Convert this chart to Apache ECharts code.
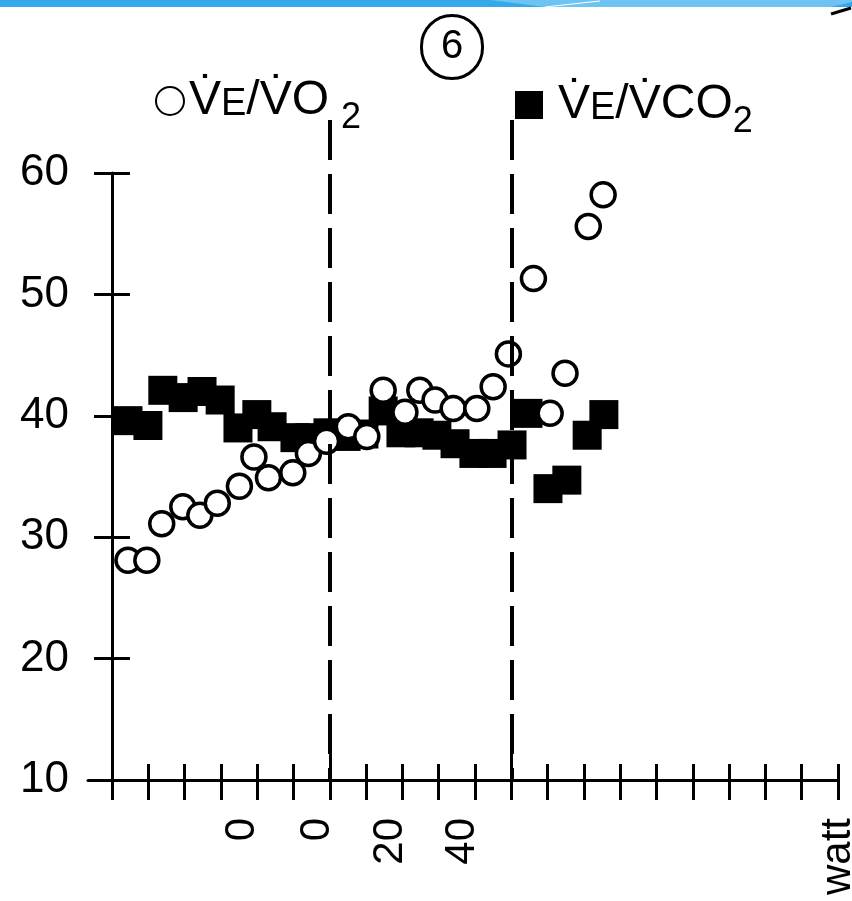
<!DOCTYPE html>
<html>
<head>
<meta charset="utf-8">
<script src="https://cdn.jsdelivr.net/npm/echarts@6/dist/echarts.min.js"></script>
<style>
html,body{margin:0;padding:0;background:#fff;}
#chart{width:852px;height:901px;}
</style>
</head>
<body>
<div id="chart"></div>
<script>
// ---- data (x in tick units along the bottom axis, y = ratio) ----
const voX = [0.44, 0.96, 1.37, 1.95, 2.42, 2.90, 3.51, 3.91, 4.31, 4.98, 5.41, 5.91, 6.51, 7.02, 7.47, 8.07, 8.48, 8.90, 9.40, 10.05, 10.50, 10.92, 11.61, 12.07, 12.48, 13.12, 13.53];
const voY = [28.1, 28.1, 31.1, 32.5, 31.8, 32.8, 34.2, 36.6, 34.9, 35.3, 36.9, 37.9, 39.1, 38.3, 42.1, 40.3, 42.1, 41.3, 40.6, 40.6, 42.4, 45.1, 51.3, 40.2, 43.5, 55.6, 58.2];
const vcoX = [0.44, 0.99, 1.40, 1.96, 2.48, 2.98, 3.47, 3.99, 4.41, 5.04, 5.45, 5.95, 6.45, 6.94, 7.47, 7.96, 8.46, 8.95, 9.45, 9.97, 10.47, 11.02, 11.46, 12.01, 12.53, 13.09, 13.55];
const vcoY = [39.6, 39.2, 42.1, 41.5, 42.0, 41.3, 39.0, 40.1, 39.1, 38.2, 38.2, 38.6, 38.3, 38.5, 40.4, 38.6, 38.6, 38.4, 37.7, 36.9, 36.9, 37.6, 40.2, 34.0, 34.7, 38.4, 40.1];
const xTicks = [0,1,2,3,4,5,6,7,8,9,10,11,12,13,14,15,16,17,18,19,20];
const xLongTicks = [6, 11];
const xLabelPos = [3.58, 5.67, 7.66, 9.64, 20];
const xLabelText = ['0', '0', '20', '40', 'watt'];
const yTicks = [10, 20, 30, 40, 50, 60];
const thresholds = [6, 11];
const seriesNames = ['VO2', 'VCO2'];

const FONT = 'Liberation Sans';
const chart = echarts.init(document.getElementById('chart'), null, {renderer: 'canvas'});

const GRID_BOTTOM = 121, GRID_RIGHT = 14, PLOT_LEFT = 112;

const xBase = {
  type: 'value', min: 0, max: 20, position: 'bottom', gridIndex: 0,
  splitLine: {show: false}
};
const legendRich = {
  v: {fontSize: 48, fontFamily: FONT, color: '#000'},
  e: {fontSize: 38, fontFamily: FONT, color: '#000', padding: [7, 0, 0, 0]},
  s: {fontSize: 36, fontFamily: FONT, color: '#000', padding: [34, 0, 0, 0]},
  s1: {fontSize: 36, fontFamily: FONT, color: '#000', padding: [34, 0, 0, 12]}
};
const hiddenAxis = {
  show: false, axisLine: {show: false}, axisTick: {show: false},
  axisLabel: {show: false}, splitLine: {show: false}
};

const option = {
  animation: false,
  textStyle: {fontFamily: FONT},
  title: {
    text: '6', left: 421, top: 15, padding: [12, 20],
    borderWidth: 3, borderColor: '#000', borderRadius: 32,
    textStyle: {fontSize: 40, fontWeight: 'normal', color: '#000', lineHeight: 40, fontFamily: FONT}
  },
  legend: [
    {
      data: [seriesNames[0]], left: 150, top: 72, itemWidth: 28, itemHeight: 28,
      formatter: () => '{v|V\u0307}{e|E}/{v|V\u0307}O{s1|2}',
      textStyle: {fontSize: 48, color: '#000', fontFamily: FONT, rich: legendRich}
    },
    {
      data: [seriesNames[1]], left: 510, top: 76, itemWidth: 28, itemHeight: 28,
      formatter: () => '{v|V\u0307}{e|E}/{v|V\u0307}CO{s|2}',
      textStyle: {fontSize: 48, color: '#000', fontFamily: FONT, padding: [0, 0, 0, 10], rich: legendRich}
    }
  ],
  grid: [
    // main plot
    {left: PLOT_LEFT, right: GRID_RIGHT, top: 173, bottom: GRID_BOTTOM, outerBoundsMode: 'none', containLabel: false},
    // short stub of the x axis line to the left of the y axis
    {left: 88, width: PLOT_LEFT - 88, top: 173, bottom: GRID_BOTTOM, outerBoundsMode: 'none', containLabel: false},
    // taller frame for the threshold lines that rise above the plot
    {left: PLOT_LEFT, right: GRID_RIGHT, top: 120, bottom: GRID_BOTTOM, outerBoundsMode: 'none', containLabel: false}
  ],
  xAxis: [
    Object.assign({}, xBase, {
      axisLine: {show: true, onZero: false, lineStyle: {color: '#000', width: 3}},
      axisTick: {show: true, customValues: xTicks, length: 20, lineStyle: {color: '#000', width: 3}},
      axisLabel: {
        show: true, customValues: xLabelPos, rotate: 90, margin: 38,
        fontSize: 42, color: '#000', fontFamily: FONT,
        formatter: (v) => {
          const i = xLabelPos.findIndex(p => Math.abs(p - v) < 1e-6);
          return i >= 0 ? xLabelText[i] : '';
        }
      }
    }),
    Object.assign({}, xBase, {
      axisLine: {show: false, onZero: false},
      axisTick: {show: true, inside: true, customValues: xTicks, length: 16, lineStyle: {color: '#000', width: 3}},
      axisLabel: {show: false}
    }),
    Object.assign({}, xBase, {
      axisLine: {show: false, onZero: false},
      axisTick: {show: true, inside: true, customValues: xLongTicks, length: 30, lineStyle: {color: '#000', width: 3}},
      axisLabel: {show: false}
    }),
    {
      type: 'value', gridIndex: 1, min: 0, max: 1, position: 'bottom',
      axisLine: {show: true, onZero: false, lineStyle: {color: '#000', width: 3}},
      axisTick: {show: false}, axisLabel: {show: false}, splitLine: {show: false}
    },
    Object.assign({type: 'value', gridIndex: 2, min: 0, max: 20, position: 'bottom'}, hiddenAxis)
  ],
  yAxis: [
    {
      type: 'value', gridIndex: 0, min: 10, max: 60, interval: 10, position: 'left',
      axisLine: {show: true, onZero: false, lineStyle: {color: '#000', width: 3}},
      axisTick: {show: true, customValues: yTicks, length: 18, lineStyle: {color: '#000', width: 3}},
      axisLabel: {show: true, customValues: yTicks, margin: 43, fontSize: 44, color: '#000', fontFamily: FONT},
      splitLine: {show: false}
    },
    {
      type: 'value', gridIndex: 0, min: 10, max: 60, interval: 10, position: 'left',
      axisLine: {show: false, onZero: false},
      axisTick: {show: true, inside: true, customValues: yTicks, length: 18, lineStyle: {color: '#000', width: 3}},
      axisLabel: {show: false},
      splitLine: {show: false}
    },
    Object.assign({type: 'value', gridIndex: 1, min: 10, max: 60}, hiddenAxis),
    Object.assign({type: 'value', gridIndex: 2, min: 10, max: 64.4}, hiddenAxis)
  ],
  graphic: [
    {type: 'rect', shape: {x: 0, y: 0, width: 852, height: 7}, style: {fill: '#35a9ea'}, silent: true},
    {type: 'polygon', shape: {points: [[490, 0], [852, 0], [852, 2], [830, 7], [545, 7]]}, style: {fill: '#6fc3f2'}, silent: true},
    {type: 'line', shape: {x1: 545, y1: 7, x2: 600, y2: 1}, style: {stroke: '#ffffff', lineWidth: 1}, silent: true},
    {type: 'line', shape: {x1: 831, y1: 14, x2: 851, y2: 8}, style: {stroke: '#000', lineWidth: 3}, silent: true}
  ],
  series: [
    {
      name: seriesNames[1], type: 'scatter', xAxisIndex: 0, yAxisIndex: 0,
      symbol: 'rect', symbolSize: 29, z: 2,
      itemStyle: {color: '#000', opacity: 1},
      data: vcoX.map((x, i) => [x, vcoY[i]])
    },
    {
      name: seriesNames[0], type: 'scatter', xAxisIndex: 0, yAxisIndex: 0,
      symbol: 'circle', symbolSize: 24, z: 3,
      itemStyle: {color: '#fff', borderColor: '#000', borderWidth: 3.5, opacity: 1},
      data: voX.map((x, i) => [x, voY[i]])
    },
    {
      name: 'thresholds', type: 'line', xAxisIndex: 4, yAxisIndex: 3, data: [], z: 5,
      markLine: {
        silent: true, symbol: 'none', animation: false, z: 6,
        label: {show: false},
        lineStyle: {color: '#000', width: 4, type: [40, 14]},
        data: thresholds.map(t => [{coord: [t, 64.4]}, {coord: [t, 10]}])
      }
    }
  ]
};
chart.setOption(option);
</script>
</body>
</html>
